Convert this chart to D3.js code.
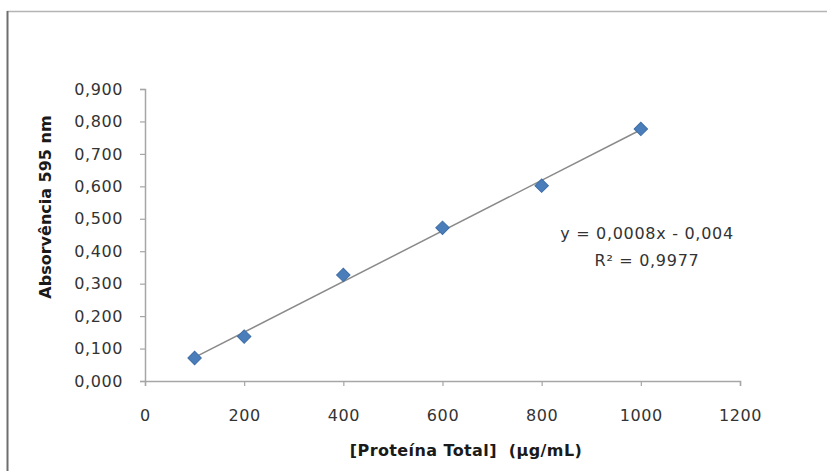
<!DOCTYPE html>
<html>
<head>
<meta charset="utf-8">
<script src="https://cdn.jsdelivr.net/npm/d3@7"></script>
<style>
  html, body { margin: 0; padding: 0; background: #fff; }
  svg { display: block; }
</style>
</head>
<body>
<svg id="chart" width="827" height="471"></svg>
<script>
// Calibration points: total protein concentration vs absorbance at 595 nm
const concentrations = [100, 200, 400, 600, 800, 1000];
const absorbances = [0.071, 0.137, 0.327, 0.472, 0.602, 0.777];
const xTickValues = [0, 200, 400, 600, 800, 1000, 1200];
const yTickValues = [0, 0.1, 0.2, 0.3, 0.4, 0.5, 0.6, 0.7, 0.8, 0.9];
const equationLines = ["y = 0,0008x - 0,004", "R² = 0,9977"];
const xTitle = "[Proteína Total]  (µg/mL)";
const yTitle = "Absorvência 595 nm";

const width = 827, height = 471;
const margin = { top: 89, right: 87, bottom: 90, left: 145 };

const svg = d3.select("#chart");

// outer chart frame (top and left edges visible)
svg.append("line").attr("x1", 7).attr("x2", width).attr("y1", 11.5).attr("y2", 11.5)
  .attr("stroke", "#b4b4b4").attr("stroke-width", 1.5);
svg.append("line").attr("x1", 7.5).attr("x2", 7.5).attr("y1", 11).attr("y2", height)
  .attr("stroke", "#6e6e6e").attr("stroke-width", 2);

const x = d3.scaleLinear().domain([0, 1200]).range([margin.left, width - margin.right]);
const y = d3.scaleLinear().domain([0, 0.9]).range([height - margin.bottom, margin.top]);

const locale = d3.formatLocale({ decimal: ",", thousands: ".", grouping: [3], currency: ["", ""] });
const fmt3 = locale.format(".3f");

const tickFont = "'DejaVu Sans', sans-serif";

// y axis
const yAxis = svg.append("g")
  .attr("transform", `translate(${margin.left},0)`)
  .call(d3.axisLeft(y).tickValues(yTickValues).tickFormat(fmt3).tickSize(5).tickPadding(17));
yAxis.select(".domain").attr("stroke", "#a6a6a6").attr("stroke-width", 1.5);
yAxis.selectAll(".tick line").attr("stroke", "#a6a6a6").attr("stroke-width", 1.2);
yAxis.selectAll(".tick text")
  .attr("fill", "#333").style("font-family", tickFont).style("font-size", "16px")
  .style("letter-spacing", "0.6px");

// x axis
const xAxis = svg.append("g")
  .attr("transform", `translate(0,${height - margin.bottom})`)
  .call(d3.axisBottom(x).tickValues(xTickValues).tickFormat(d3.format("d")).tickSize(5).tickPadding(24));
xAxis.select(".domain").attr("stroke", "#a6a6a6").attr("stroke-width", 1.5);
xAxis.selectAll(".tick line").attr("stroke", "#a6a6a6").attr("stroke-width", 1.2);
xAxis.selectAll(".tick text")
  .attr("fill", "#333").style("font-family", tickFont).style("font-size", "16px")
  .style("letter-spacing", "0.6px");

// least-squares trendline over the measured range
const n = concentrations.length;
const mx = d3.mean(concentrations), my = d3.mean(absorbances);
let sxy = 0, sxx = 0;
for (let i = 0; i < n; i++) {
  sxy += (concentrations[i] - mx) * (absorbances[i] - my);
  sxx += (concentrations[i] - mx) ** 2;
}
const slope = sxy / sxx, intercept = my - slope * mx;
const xExtent = d3.extent(concentrations);
svg.append("path")
  .datum(xExtent.map(v => [v, slope * v + intercept]))
  .attr("d", d3.line().x(d => x(d[0])).y(d => y(d[1])))
  .attr("fill", "none").attr("stroke", "#8a8a8a").attr("stroke-width", 1.5);

// diamond markers
const marker = d3.symbol().type(d3.symbolSquare).size(90);
svg.append("g").selectAll("path")
  .data(concentrations.map((c, i) => [c, absorbances[i]]))
  .join("path")
  .attr("d", marker)
  .attr("transform", d => `translate(${x(d[0])},${y(d[1])}) rotate(45)`)
  .attr("fill", "#4a7ebb").attr("stroke", "#3f6ea6").attr("stroke-width", 1);

// regression equation
const eq = svg.append("text")
  .attr("text-anchor", "middle")
  .style("font-family", tickFont).style("font-size", "16px")
  .style("letter-spacing", "0.7px")
  .attr("fill", "#333");
eq.selectAll("tspan").data(equationLines).join("tspan")
  .attr("x", 647).attr("y", (d, i) => 239 + i * 27)
  .text(d => d);

// axis titles
svg.append("text")
  .attr("x", 466).attr("y", 456)
  .attr("text-anchor", "middle")
  .style("font-family", tickFont).style("font-size", "16px").style("font-weight", "bold")
  .style("letter-spacing", "0.4px").style("white-space", "pre")
  .attr("fill", "#1a1a1a")
  .text(xTitle);

svg.append("text")
  .attr("transform", "translate(51,207) rotate(-90)")
  .attr("text-anchor", "middle")
  .style("font-family", tickFont).style("font-size", "16px").style("font-weight", "bold")
  .attr("fill", "#1a1a1a")
  .text(yTitle);
</script>
</body>
</html>
